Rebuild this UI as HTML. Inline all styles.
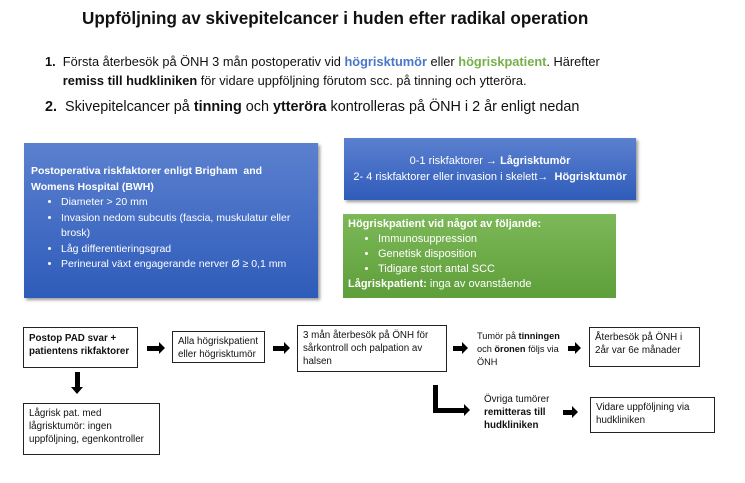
<!DOCTYPE html>
<html><head><meta charset="utf-8"><style>
body{margin:0;width:745px;height:483px;background:#fff;position:relative;overflow:hidden;font-family:"Liberation Sans",sans-serif;color:#111}
.a{position:absolute;white-space:nowrap}
.box{position:absolute;border:1.3px solid #222;background:#fff;font-size:9.8px;line-height:13px;padding:3px 5px;box-sizing:border-box;white-space:normal}
.blue{background:linear-gradient(#5b80cf,#2f5cba);color:#fff;box-shadow:2px 2px 3px #999}
.green{background:linear-gradient(#7db858,#5e9f3a);color:#fff}
ul{margin:0;padding-left:30px}
.arr{position:absolute;height:5px;background:#000}
.arr:after{content:"";position:absolute;right:-5px;top:-4px;border-left:6px solid #000;border-top:6.5px solid transparent;border-bottom:6.5px solid transparent}
</style></head><body>
<div class="a" style="left:82px;top:9px;font-size:17.1px;font-weight:bold">Uppföljning av skivepitelcancer i huden efter radikal operation</div>
<div class="a" style="left:45px;top:52px;font-size:12.8px;line-height:19px"><b>1.</b>&nbsp; Första återbesök på ÖNH 3 mån postoperativ vid <b style="color:#4a76c8">högrisktumör</b> eller <b style="color:#76b04a">högriskpatient</b>. Härefter<br>&nbsp;&nbsp;&nbsp;&nbsp;&nbsp;<b>remiss till hudkliniken</b> för vidare uppföljning förutom scc. på tinning och ytteröra.</div>
<div class="a" style="left:45px;top:99px;font-size:14.4px"><b>2.</b>&nbsp; Skivepitelcancer på <b>tinning</b> och <b>ytteröra</b> kontrolleras på ÖNH i 2 år enligt nedan</div>

<div class="a blue" style="left:24px;top:143px;width:294px;height:155px;font-size:10.5px;line-height:15.5px;white-space:normal">
<div style="padding:21px 20px 0 7px"><b>Postoperativa riskfaktorer enligt Brigham&nbsp; and Womens Hospital (BWH)</b>
<ul><li>Diameter &gt; 20 mm</li><li>Invasion nedom subcutis (fascia, muskulatur eller brosk)</li><li>Låg differentieringsgrad</li><li style="white-space:nowrap">Perineural växt engagerande nerver Ø ≥ 0,1 mm</li></ul></div></div>

<div class="a blue" style="left:344px;top:138px;width:292px;height:62px;font-size:11px;line-height:16px;text-align:center"><div style="padding-top:15px">0-1 riskfaktorer → <b>Lågrisktumör</b><br>2- 4 riskfaktorer eller invasion i skelett→&nbsp; <b>Högrisktumör</b></div></div>

<div class="a green" style="left:343px;top:214px;width:273px;height:84px;font-size:11px;line-height:15px"><div style="padding:3px 0 0 5px"><b>Högriskpatient vid något av följande:</b><ul><li>Immunosuppression</li><li>Genetisk disposition</li><li>Tidigare stort antal SCC</li></ul><b>Lågriskpatient:</b> inga av ovanstående</div></div>

<div class="box" style="left:23px;top:327px;width:115px;height:41px;font-weight:bold;padding-top:4px">Postop PAD svar +<br>patientens rikfaktorer</div>
<div class="arr" style="left:147px;top:346px;width:13px"></div>
<div class="box" style="left:172px;top:331px;width:93px;height:32px">Alla högriskpatient eller högrisktumör</div>
<div class="arr" style="left:273px;top:346px;width:12px"></div>
<div class="box" style="left:297px;top:325px;width:150px;height:47px">3 mån återbesök på ÖNH för sårkontroll och palpation av halsen</div>
<div class="arr" style="left:453px;top:346px;width:10px"></div>
<div class="a" style="left:477px;top:330px;font-size:9.2px;line-height:13px">Tumör på <b>tinningen</b><br>och <b>öronen</b> följs via<br>ÖNH</div>
<div class="arr" style="left:568px;top:346px;width:8px"></div>
<div class="box" style="left:589px;top:327px;width:111px;height:40px">Återbesök på ÖNH i 2år var 6e månader</div>

<div style="position:absolute;left:75px;top:372px;width:5px;height:15px;background:#000"></div>
<div style="position:absolute;left:71px;top:387px;border-top:7px solid #000;border-left:6.5px solid transparent;border-right:6.5px solid transparent"></div>
<div class="box" style="left:23px;top:403px;width:137px;height:52px">Lågrisk pat. med lågrisktumör: ingen uppföljning, egenkontroller</div>

<div style="position:absolute;left:433px;top:385px;width:5px;height:28px;background:#000"></div>
<div class="arr" style="left:433px;top:408px;width:32px"></div>
<div class="a" style="left:484px;top:393px;font-size:9.8px;line-height:13px">Övriga tumörer<br><b>remitteras till<br>hudkliniken</b></div>
<div class="arr" style="left:563px;top:410px;width:10px"></div>
<div class="box" style="left:590px;top:397px;width:125px;height:36px">Vidare uppföljning via hudkliniken</div>
</body></html>
